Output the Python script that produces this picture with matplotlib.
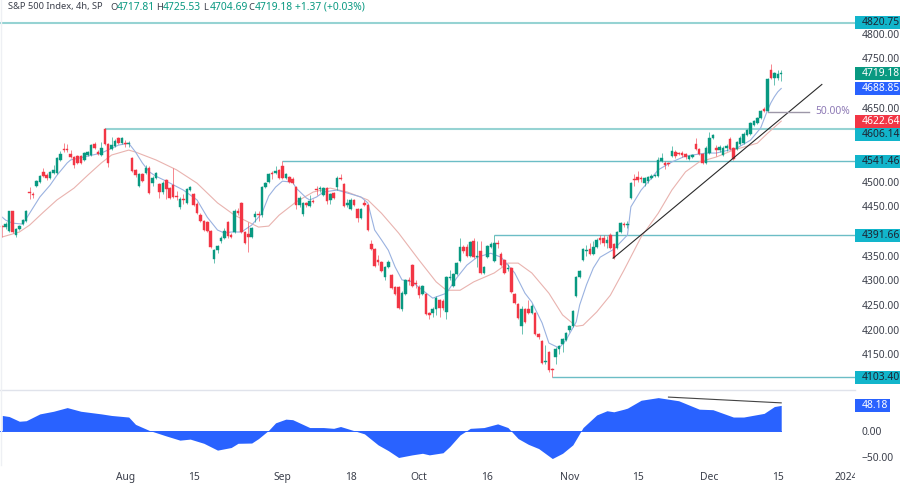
import numpy as np
import matplotlib
matplotlib.use('Agg')
import matplotlib.pyplot as plt
from matplotlib.patches import Rectangle
from matplotlib.transforms import Bbox, TransformedBbox

plt.rcParams['font.family'] = ['Noto Sans', 'DejaVu Sans']

# 4h candles, one row per 10 bars
opens = [
    4411, 4408, 4400, 4440, 4392, 4404, 4414, 4420, 4479, 4475,
    4491, 4499, 4519, 4513, 4507, 4517, 4517, 4544, 4566, 4566,
    4556, 4550, 4552, 4552, 4544, 4554, 4554, 4576, 4560, 4554,
    4607, 4576, 4566, 4572, 4588, 4578, 4579, 4576, 4548, 4524,
    4491, 4515, 4517, 4528, 4497, 4507, 4495, 4479, 4503, 4487,
    4493, 4471, 4449, 4465, 4457, 4483, 4475, 4455, 4432, 4420,
    4418, 4400, 4343, 4361, 4380, 4386, 4418, 4392, 4398, 4440,
    4457, 4398, 4394, 4388, 4428, 4434, 4432, 4489, 4499, 4517,
    4517, 4524, 4532, 4507, 4509, 4505, 4489, 4453, 4434, 4457,
    4451, 4461, 4485, 4485, 4473, 4487, 4463, 4477, 4489, 4507,
    4495, 4453, 4445, 4463, 4445, 4426, 4457, 4453, 4374, 4364,
    4341, 4337, 4307, 4327, 4311, 4287, 4287, 4242, 4272, 4301,
    4331, 4295, 4287, 4272, 4272, 4234, 4234, 4242, 4260, 4258,
    4236, 4305, 4289, 4313, 4339, 4368, 4368, 4349, 4380, 4347,
    4359, 4315, 4347, 4368, 4339, 4376, 4353, 4341, 4323, 4325,
    4272, 4252, 4208, 4242, 4242, 4234, 4234, 4191, 4177, 4134,
    4155, 4120, 4145, 4161, 4171, 4179, 4199, 4207, 4268, 4307,
    4341, 4360, 4364, 4353, 4368, 4385, 4385, 4376, 4392, 4374,
    4366, 4398, 4414, 4412, 4467, 4505, 4509, 4507, 4497, 4501,
    4507, 4511, 4511, 4542, 4538, 4537, 4552, 4560, 4559, 4558,
    4556, 4546, 4550, 4576, 4566, 4556, 4538, 4558, 4588, 4568,
    4564, 4554, 4568, 4586, 4568, 4566, 4576, 4578, 4594, 4596,
    4615, 4619, 4629, 4647, 4643, 4726, 4710, 4710, 4717.81,
]
closes = [
    4408, 4414, 4440, 4398, 4404, 4410, 4422, 4440, 4477, 4473,
    4501, 4511, 4511, 4507, 4519, 4524, 4548, 4556, 4564, 4564,
    4550, 4534, 4538, 4538, 4558, 4560, 4574, 4568, 4556, 4568,
    4576, 4538, 4574, 4582, 4578, 4589, 4576, 4578, 4522, 4513,
    4515, 4501, 4528, 4477, 4507, 4517, 4479, 4497, 4485, 4467,
    4469, 4469, 4465, 4463, 4485, 4489, 4453, 4436, 4420, 4402,
    4400, 4368, 4361, 4370, 4386, 4400, 4390, 4388, 4440, 4436,
    4398, 4376, 4388, 4406, 4434, 4432, 4489, 4497, 4515, 4515,
    4522, 4507, 4507, 4515, 4499, 4497, 4453, 4467, 4457, 4453,
    4461, 4459, 4483, 4487, 4487, 4461, 4475, 4467, 4507, 4505,
    4451, 4457, 4463, 4453, 4426, 4445, 4453, 4402, 4364, 4329,
    4337, 4319, 4327, 4337, 4285, 4272, 4244, 4274, 4301, 4299,
    4289, 4293, 4270, 4289, 4232, 4230, 4242, 4264, 4244, 4244,
    4307, 4307, 4313, 4335, 4368, 4359, 4349, 4378, 4347, 4349,
    4315, 4327, 4370, 4374, 4376, 4374, 4331, 4315, 4325, 4276,
    4254, 4224, 4242, 4216, 4234, 4248, 4191, 4185, 4132, 4136,
    4118, 4118, 4161, 4167, 4181, 4193, 4207, 4238, 4307, 4319,
    4364, 4362, 4353, 4368, 4382, 4382, 4376, 4382, 4366, 4345,
    4398, 4416, 4412, 4414, 4497, 4503, 4503, 4505, 4507, 4509,
    4511, 4513, 4544, 4548, 4534, 4536, 4562, 4552, 4557, 4555,
    4550, 4552, 4554, 4566, 4556, 4538, 4568, 4588, 4594, 4564,
    4570, 4568, 4572, 4566, 4546, 4580, 4588, 4596, 4605, 4619,
    4623, 4629, 4643, 4643, 4708, 4710, 4720, 4718, 4719.18,
]
highs = [
    4412, 4418, 4441, 4441, 4406, 4412, 4425, 4443, 4489, 4479,
    4503, 4513, 4528, 4517, 4521, 4534, 4550, 4562, 4578, 4576,
    4564, 4552, 4554, 4554, 4560, 4562, 4576, 4580, 4564, 4581,
    4609, 4578, 4590, 4586, 4590, 4590, 4584, 4582, 4550, 4526,
    4517, 4517, 4534, 4532, 4511, 4519, 4497, 4501, 4505, 4489,
    4528, 4481, 4469, 4475, 4487, 4491, 4477, 4459, 4436, 4422,
    4420, 4402, 4363, 4372, 4390, 4406, 4420, 4396, 4444, 4446,
    4459, 4400, 4419, 4408, 4440, 4440, 4491, 4499, 4517, 4521,
    4532, 4526, 4542, 4517, 4511, 4509, 4491, 4471, 4459, 4459,
    4473, 4465, 4491, 4491, 4489, 4489, 4477, 4479, 4511, 4515,
    4497, 4465, 4467, 4465, 4447, 4447, 4463, 4455, 4382, 4366,
    4351, 4339, 4329, 4341, 4313, 4289, 4289, 4278, 4303, 4307,
    4333, 4301, 4291, 4291, 4274, 4236, 4246, 4268, 4262, 4262,
    4309, 4321, 4315, 4337, 4385, 4372, 4374, 4380, 4386, 4380,
    4380, 4329, 4372, 4378, 4392, 4382, 4357, 4343, 4333, 4327,
    4274, 4254, 4248, 4244, 4260, 4252, 4236, 4193, 4179, 4170,
    4157, 4123, 4165, 4170, 4183, 4195, 4209, 4240, 4309, 4321,
    4366, 4372, 4376, 4380, 4386, 4392, 4392, 4390, 4396, 4376,
    4400, 4418, 4418, 4420, 4499, 4515, 4522, 4511, 4509, 4511,
    4515, 4515, 4550, 4558, 4542, 4540, 4572, 4564, 4561, 4562,
    4558, 4554, 4556, 4588, 4568, 4558, 4572, 4600, 4596, 4574,
    4574, 4572, 4576, 4590, 4570, 4582, 4592, 4600, 4607, 4621,
    4625, 4631, 4645, 4651, 4710, 4738, 4722, 4727, 4725.53,
]
lows = [
    4388, 4404, 4398, 4396, 4388, 4402, 4412, 4418, 4465, 4467,
    4489, 4497, 4509, 4503, 4505, 4515, 4515, 4542, 4560, 4560,
    4548, 4528, 4536, 4536, 4542, 4552, 4552, 4566, 4554, 4552,
    4574, 4530, 4564, 4570, 4576, 4576, 4570, 4570, 4520, 4510,
    4489, 4499, 4515, 4475, 4491, 4505, 4467, 4475, 4465, 4465,
    4467, 4463, 4445, 4455, 4455, 4481, 4451, 4434, 4418, 4400,
    4398, 4366, 4335, 4355, 4376, 4384, 4386, 4386, 4396, 4432,
    4396, 4374, 4357, 4386, 4418, 4420, 4428, 4487, 4497, 4505,
    4515, 4505, 4505, 4505, 4497, 4495, 4445, 4449, 4430, 4449,
    4449, 4457, 4473, 4479, 4471, 4454, 4454, 4465, 4483, 4503,
    4449, 4449, 4443, 4451, 4418, 4424, 4451, 4400, 4362, 4327,
    4331, 4317, 4301, 4325, 4283, 4270, 4242, 4238, 4270, 4290,
    4287, 4285, 4264, 4270, 4230, 4221, 4225, 4230, 4226, 4240,
    4222, 4301, 4287, 4311, 4337, 4356, 4347, 4347, 4345, 4327,
    4313, 4313, 4345, 4366, 4337, 4366, 4329, 4313, 4319, 4274,
    4252, 4222, 4191, 4214, 4232, 4232, 4189, 4181, 4130, 4130,
    4114, 4103.4, 4131, 4150, 4155, 4177, 4195, 4205, 4266, 4305,
    4339, 4350, 4351, 4351, 4366, 4374, 4370, 4366, 4364, 4343,
    4364, 4396, 4408, 4406, 4465, 4491, 4499, 4499, 4491, 4497,
    4505, 4509, 4509, 4540, 4526, 4532, 4550, 4548, 4555, 4549,
    4546, 4544, 4548, 4564, 4554, 4536, 4536, 4556, 4586, 4552,
    4560, 4552, 4562, 4564, 4544, 4564, 4574, 4576, 4592, 4594,
    4613, 4617, 4627, 4641, 4641, 4708, 4696, 4706, 4704.69,
]

# moving averages at these bars
fast_bars = [0, 1, 3, 6, 8, 9, 11, 14, 16, 19, 20, 29, 34, 37, 39, 41, 43, 45, 48, 53, 57, 60, 63, 65, 67, 70,
             73, 76, 78, 80, 82, 85, 86, 89, 90, 92, 94, 98, 100, 105, 107, 109, 111, 113, 115, 117, 120, 123,
             126, 130, 133, 136, 139, 143, 146, 150, 153, 155, 158, 160, 163, 165, 168, 169, 171, 173, 175,
             179, 183, 184, 187, 190, 192, 196, 200, 206, 209, 215, 219, 222, 224, 225, 226, 227, 228]
fast_vals = [4428, 4422, 4416, 4414, 4436, 4447, 4469, 4493, 4513, 4538, 4544, 4558, 4574, 4578, 4560, 4538, 4520,
             4511, 4501, 4483, 4463, 4428, 4402, 4396, 4398, 4398, 4412, 4436, 4471, 4489, 4501, 4499, 4487, 4467,
             4463, 4469, 4479, 4483, 4479, 4469, 4457, 4402, 4382, 4361, 4327, 4301, 4297, 4280, 4264, 4274, 4305,
             4331, 4347, 4355, 4347, 4315, 4274, 4256, 4214, 4173, 4163, 4179, 4216, 4250, 4291, 4325, 4347, 4363,
             4392, 4449, 4483, 4507, 4524, 4540, 4552, 4558, 4558, 4568, 4584, 4609, 4645, 4660, 4672, 4682, 4688.85]
slow_bars = [0, 5, 8, 12, 16, 21, 25, 29, 32, 37, 39, 45, 51, 57, 63, 68, 75, 78, 81, 86, 91, 96, 101, 107, 111,
             116, 122, 127, 130, 134, 138, 144, 148, 151, 155, 160, 164, 168, 170, 174, 178, 182, 187, 192, 196,
             200, 204, 209, 214, 221, 224, 228]
slow_vals = [4388, 4398, 4412, 4438, 4463, 4487, 4513, 4538, 4554, 4564, 4560, 4544, 4524, 4497, 4457, 4432, 4408,
             4410, 4432, 4459, 4479, 4487, 4479, 4463, 4436, 4396, 4341, 4297, 4280, 4280, 4297, 4315, 4335, 4335,
             4315, 4274, 4230, 4207, 4209, 4236, 4270, 4321, 4388, 4436, 4483, 4520, 4540, 4550, 4564, 4578, 4598,
             4622.64]

# horizontal levels: price, first bar
level_prices = [4820.75, 4606.14, 4541.46, 4391.66, 4103.40]
level_starts = [-1, 30, 82, 144, 161]
level_widths = [1.5, 1.5, 1.0, 1.0, 1.0]
level_colors = ['#96d3d3', '#96d3d3', '#6cbdc6', '#6cbdc6', '#6cbdc6']

trend_bars = [178.8, 239.9]
trend_prices = [4345, 4697]
fib_bars = [224, 236]
fib_price = 4642

# axis numbers that the price tags do not cover
price_ticks = [4150, 4200, 4250, 4300, 4350, 4450, 4500, 4650, 4750, 4800]

# lower pane oscillator
osc_bars = [0, 2, 5, 7, 11, 15, 19, 23, 29, 32, 37, 39, 43, 48, 52, 55, 59, 63, 67, 69, 73, 75, 78, 80, 83, 85, 90,
            94, 97, 99, 103, 106, 110, 113, 116, 120, 123, 125, 129, 131, 134, 137, 141, 145, 148, 151, 154, 157,
            161, 164, 167, 170, 174, 177, 179, 182, 183, 187, 192, 198, 204, 208, 214, 217, 223, 226, 228]
osc_vals = [29, 27, 18, 19, 32, 37, 44, 37, 32, 29, 26, 12, 0.6, -10, -18, -16, -24, -37, -32, -24, -23.5, -15, 1,
            15, 22, 21, 6, 6, 4.5, 8, 0, -6, -27, -38, -51, -46, -43, -46, -42, -30, -8, 4.5, 6, 13, 6, -15, -26,
            -34, -53, -43, -27, 6, 30, 38, 36, 41, 43, 58, 63, 57, 41, 40, 26, 26, 33, 46, 48.18]
osc_line_bars = [195, 228]
osc_line_vals = [64, 53]

date_ticks = [36, 56, 82, 102, 122, 142, 166, 186, 207, 227, 247]
date_labels = ['Aug', '15', 'Sep', '18', 'Oct', '16', 'Nov', '15', 'Dec', '15', '2024']

green = '#089981'
red = '#f23645'
blue = '#2962ff'
cyan = '#12b5cb'
text_color = '#3a3e4a'
grid_color = '#e0e3eb'
font_px = 7.4

fig = plt.figure(figsize=(9, 4.83), dpi=100)
ax = fig.add_axes([0, 93 / 483, 855 / 900, 390 / 483])
ax_osc = fig.add_axes([0, 18 / 483, 855 / 900, 75 / 483])

bars = np.arange(len(opens))
opens = np.array(opens)
closes = np.array(closes)
colors = np.where(closes >= opens, green, red)

# levels go under the candles
for price, start, width, col in zip(level_prices, level_starts, level_widths, level_colors):
    ax.plot([start, 250], [price, price], color=col, lw=width, zorder=1, solid_capstyle='butt')

ax.plot(slow_bars, slow_vals, color='#e9b3af', lw=0.8, zorder=2)
ax.plot(fast_bars, fast_vals, color='#9ab2e0', lw=0.8, zorder=2)

ax.vlines(bars, lows, highs, colors=colors, lw=0.6, alpha=0.7, zorder=3)
ax.bar(bars, np.abs(closes - opens), bottom=np.minimum(opens, closes), width=0.74, color=colors,
       edgecolor=colors, linewidth=0.3, zorder=4)

ax.plot(trend_bars, trend_prices, color='#2a2a2a', lw=0.8, zorder=5)
ax.plot(fib_bars, [fib_price, fib_price], color='#9d97a8', lw=1.0, zorder=5)
ax.text(238.0, fib_price + 1, '50.00%', color='#8d79b5', fontsize=font_px, va='center', ha='left')

ax.set_xlim(-0.67, 249.6)
ax.set_ylim(4077.9, 4868.1)
ax.yaxis.tick_right()
ax.set_yticks(price_ticks)
ax.set_yticklabels(['%.2f' % v for v in price_ticks])
ax.tick_params(axis='y', length=0, pad=5, labelsize=font_px, labelcolor=text_color)
ax.set_xticks([])

ax_osc.fill_between(osc_bars, osc_vals, 0, color=blue, lw=0)
ax_osc.plot([-1, 228], [0, 0], color=blue, lw=0.7)
ax_osc.plot(osc_line_bars, osc_line_vals, color='#444444', lw=0.8)
ax_osc.set_xlim(-0.67, 249.6)
ax_osc.set_ylim(-65.3, 77.5)
ax_osc.yaxis.tick_right()
ax_osc.set_yticks([-50, 0])
ax_osc.set_yticklabels(['\u221250.00', '0.00'])
ax_osc.tick_params(axis='y', length=0, pad=5, labelsize=font_px, labelcolor=text_color)
ax_osc.set_xticks(date_ticks)
ax_osc.set_xticklabels(date_labels)
ax_osc.tick_params(axis='x', length=0, pad=5, labelsize=font_px, labelcolor=text_color)

# 2024 gets cut off by the price scale
year = ax_osc.get_xticklabels()[-1]
year.set_fontweight('bold')
year.set_clip_on(True)
year.set_clip_box(TransformedBbox(Bbox([[0, 0], [855 / 900, 1]]), fig.transFigure))

for a in (ax, ax_osc):
    for side in a.spines:
        a.spines[side].set_visible(False)
    a.patch.set_alpha(0)

fig.add_artist(plt.Line2D([0, 855 / 900], [93 / 483, 93 / 483], color=grid_color, lw=1))
fig.add_artist(plt.Line2D([1 / 900, 1 / 900], [18 / 483, 1], color='#eef0f4', lw=1))


def price_tag(axis, shown_at, height, label, face, text, width=45):
    tr = axis.get_yaxis_transform()
    axis.add_patch(Rectangle((1.0, shown_at - height / 2), width / 855, height, transform=tr, facecolor=face,
                             edgecolor='none', clip_on=False, zorder=6))
    axis.text(1 + 7 / 855, shown_at, label, transform=tr, color=text, fontsize=font_px, va='center', ha='left',
              clip_on=False, zorder=7)


# tag height is 13px, 26.3 points on this scale
price_tag(ax, 4820.75 + 2, 26.3, '4820.75', cyan, '#1d2433')
price_tag(ax, 4719.18, 26.3, '4719.18', green, 'white')
price_tag(ax, 4688.85, 26.3, '4688.85', blue, 'white')
price_tag(ax, 4622.64, 26.3, '4622.64', red, 'white')
price_tag(ax, 4594.6, 26.3, '4606.14', cyan, '#1d2433')
price_tag(ax, 4541.46, 26.3, '4541.46', cyan, '#1d2433')
price_tag(ax, 4391.66, 26.3, '4391.66', cyan, '#1d2433')
price_tag(ax, 4103.40, 26.3, '4103.40', cyan, '#1d2433')
price_tag(ax_osc, 48.18, 26, '48.18', blue, 'white', width=35)

# header line
header_y = 1 - 7 / 483
fig.text(8 / 900, header_y, 'S&P 500 Index, 4h, SP', color=text_color, fontsize=6.7, va='center')
header_x = [110, 156, 203, 248]
header_keys = ['O', 'H', 'L', 'C']
header_vals = ['4717.81', '4725.53', '4704.69', '4719.18']
for hx, key, val in zip(header_x, header_keys, header_vals):
    fig.text(hx / 900, header_y, key, color=text_color, fontsize=6.7, va='center')
    fig.text((hx + 6.5) / 900, header_y, val, color=green, fontsize=font_px, va='center')
fig.text(295 / 900, header_y, '+1.37 (+0.03%)', color=green, fontsize=font_px, va='center')

fig.savefig('out.png', dpi=100)
